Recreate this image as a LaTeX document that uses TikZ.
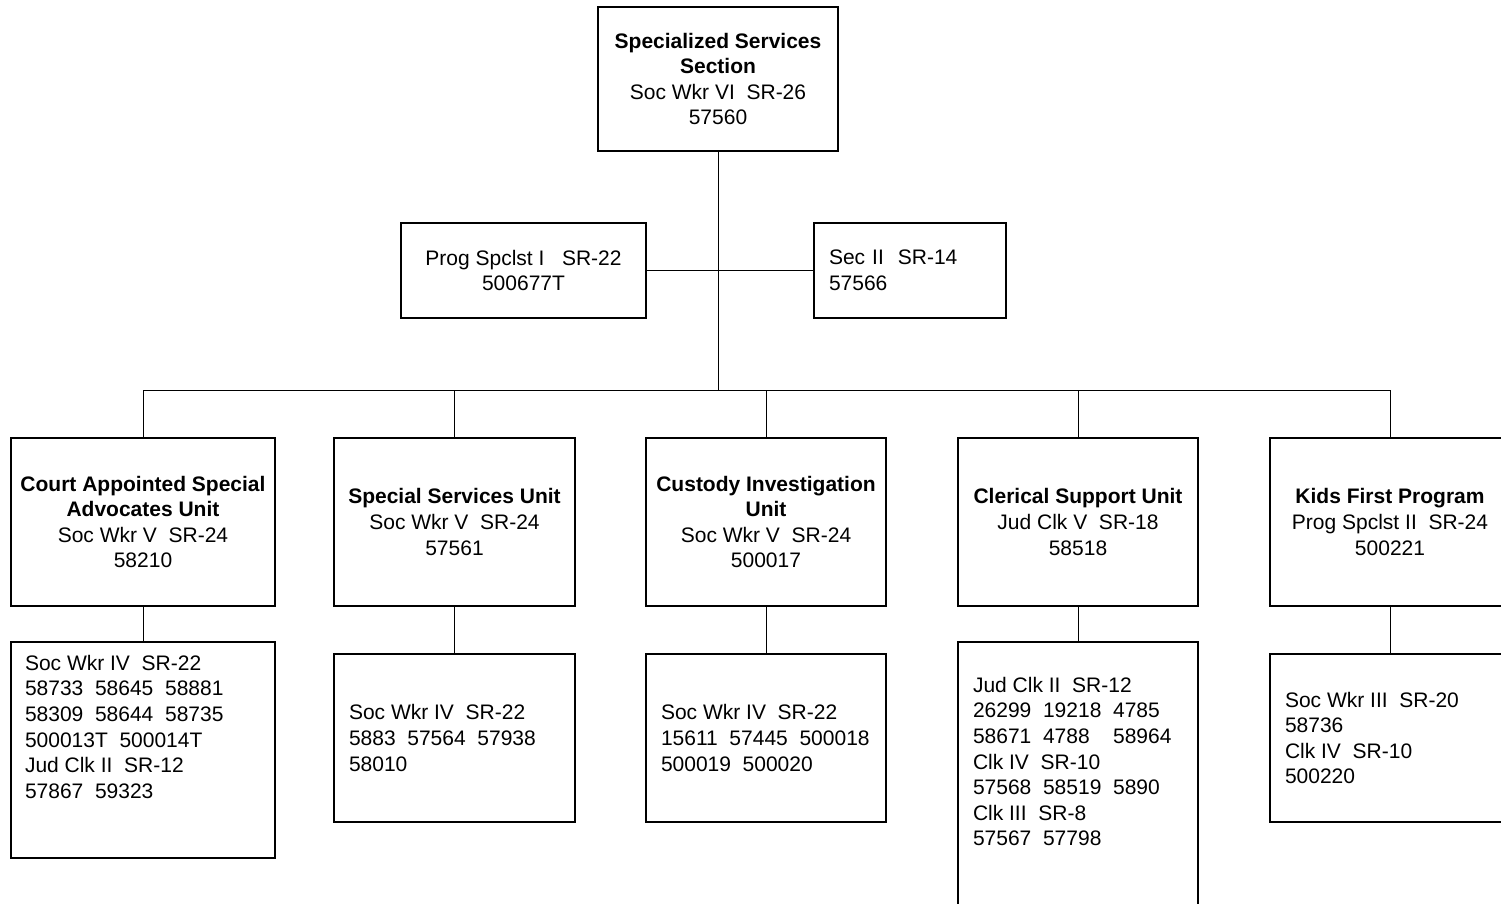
\documentclass[tikz,border=0pt]{standalone}
\usepackage{fontspec}
\setmainfont{Liberation Sans}
\newcommand\orgfs{\fontsize{21}{25.6}\selectfont}
\begin{document}
\begin{tikzpicture}[x=1pt,y=-1pt,
  box/.style={draw, line width=1.5pt, inner sep=0pt, outer sep=0pt, font=\orgfs, align=center},
  lbox/.style={box, align=left},
  txt/.style={inner sep=0pt, outer sep=0pt, font=\orgfs, align=left},
  conn/.style={line width=1pt}]
\useasboundingbox (0,0) rectangle (1501,904);
\clip (0,0) rectangle (1501,904);
% top
\node[box, minimum width=240pt, minimum height=144pt] (top) at (718,79)
  {\textbf{Specialized Services}\\\textbf{Section}\\Soc Wkr VI\ \ SR-26\\57560};
\node[box, minimum width=245pt, minimum height=95pt] (prog) at (523.5,270.5)
  {Prog Spclst I\ \ \ SR-22\\500677T};
\node[lbox, minimum width=192pt, minimum height=95pt, text width=162pt] (sec) at (910,270.5)
  {Sec II\ \ SR-14\\57566};
\coordinate (bar) at (718,390);
% level 2
\node[box, minimum width=264pt, minimum height=168pt] (u1) at (143,522)
  {\textbf{Court Appointed Special}\\\textbf{Advocates Unit}\\Soc Wkr V\ \ SR-24\\58210};
\node[box, minimum width=241pt, minimum height=168pt] (u2) at (454.5,522)
  {\textbf{Special Services Unit}\\Soc Wkr V\ \ SR-24\\57561};
\node[box, minimum width=240pt, minimum height=168pt] (u3) at (766,522)
  {\textbf{Custody Investigation}\\\textbf{Unit}\\Soc Wkr V\ \ SR-24\\500017};
\node[box, minimum width=240pt, minimum height=168pt] (u4) at (1078,522)
  {\textbf{Clerical Support Unit}\\Jud Clk V\ \ SR-18\\58518};
\node[box, minimum width=240pt, minimum height=168pt] (u5) at (1390,522)
  {\textbf{Kids First Program}\\Prog Spclst II\ \ SR-24\\500221};
% level 3
\node[box, minimum width=264pt, minimum height=216pt] (d1) at (143,750) {};
\node[txt, anchor=north west] (t1) at (25,655)
  {Soc Wkr IV\ \ SR-22\\58733\ \ 58645\ \ 58881\\58309\ \ 58644\ \ 58735\\500013T\ \ 500014T\\Jud Clk II\ \ SR-12\\57867\ \ 59323};
\node[box, minimum width=241pt, minimum height=168pt] (d2) at (454.5,738) {};
\node[txt, anchor=west, xshift=15pt] (t2) at (d2.west)
  {Soc Wkr IV\ \ SR-22\\5883\ \ 57564\ \ 57938\\58010};
\node[box, minimum width=240pt, minimum height=168pt] (d3) at (766,738) {};
\node[txt, anchor=west, xshift=15pt] (t3) at (d3.west)
  {Soc Wkr IV\ \ SR-22\\15611\ \ 57445\ \ 500018\\500019\ \ 500020};
\node[box, minimum width=240pt, minimum height=290pt] (d4) at (1078,787) {};
\node[txt, anchor=north west] (t4) at (973,677)
  {Jud Clk II\ \ SR-12\\26299\ \ 19218\ \ 4785\\58671\ \ 4788\ \ \ \ 58964\\Clk IV\ \ SR-10\\57568\ \ 58519\ \ 5890\\Clk III\ \ SR-8\\57567\ \ 57798};
\node[box, minimum width=240pt, minimum height=168pt] (d5) at (1390,738) {};
\node[txt, anchor=west, xshift=15pt] (t5) at (d5.west)
  {Soc Wkr III\ \ SR-20\\58736\\Clk IV\ \ SR-10\\500220};
% connectors
\draw[conn] (top.south) -- (bar);
\draw[conn] (prog.east) -- (sec.west);
\draw[conn] (u1.north |- bar) -- (u5.north |- bar);
\foreach \u in {u1,u2,u3,u4,u5} {\draw[conn] (\u.north) -- (\u.north |- bar);}
\draw[conn] (u1.south) -- (d1.north);
\draw[conn] (u2.south) -- (d2.north);
\draw[conn] (u3.south) -- (d3.north);
\draw[conn] (u4.south) -- (d4.north);
\draw[conn] (u5.south) -- (d5.north);
\end{tikzpicture}
\end{document}
